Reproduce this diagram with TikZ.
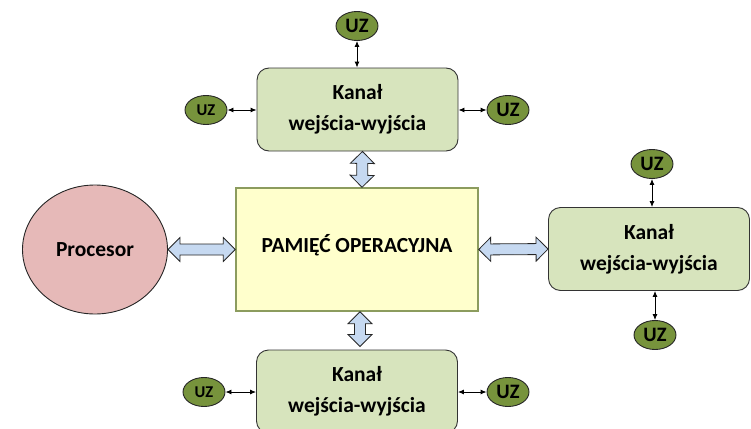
\documentclass[tikz,border=0pt]{standalone}
\usepackage{fontspec}
\setmainfont{Carlito}
\usetikzlibrary{shapes.geometric, calc, arrows.meta}
\definecolor{procFill}{HTML}{E6B9B8}
\definecolor{pamFill}{HTML}{FFFFCC}
\definecolor{pamRam}{HTML}{8C9C5E}
\definecolor{kanFill}{HTML}{D7E4BD}
\definecolor{uzFill}{HTML}{77933C}
\definecolor{szFill}{HTML}{C6D9F1}
\tikzstyle{kanal}=[draw=black!80, line width=0.9pt, fill=kanFill, rounded corners=12pt, minimum width=201pt, minimum height=83pt, align=center, font=\bfseries\fontsize{21.5}{31}\selectfont]
\tikzstyle{uz}=[ellipse, draw=black!85, line width=0.9pt, fill=uzFill, minimum width=42pt, minimum height=29pt, inner sep=0pt, font=\bfseries\fontsize{20.5}{20}\selectfont]
\tikzstyle{uzmaly}=[uz, font=\bfseries\fontsize{16.5}{16}\selectfont]
\tikzstyle{strz}=[{Latex[length=6pt,width=5pt]}-{Latex[length=6pt,width=5pt]}, line width=0.9pt]
\tikzstyle{szyna}=[draw=black!85, fill=szFill, line width=0.8pt]
% szeroka strzalka w obie strony
\newcommand{\magistrala}[2]{\path[szyna] let \p1=(#1), \p2=(#2), \n1={atan2(\y2-\y1,\x2-\x1)}, \n2={veclen(\x2-\x1,\y2-\y1)} in
 [shift={(\p1)}, rotate=\n1] (0,0) -- (12pt,12pt) -- (12pt,5.5pt) -- (\n2-12pt,5.5pt) -- (\n2-12pt,12pt) -- (\n2,0pt)
 -- (\n2-12pt,-12pt) -- (\n2-12pt,-5.5pt) -- (12pt,-5.5pt) -- (12pt,-12pt) -- cycle;}
\begin{document}
\begin{tikzpicture}[x=1pt, y=-1pt]
\path[use as bounding box, clip] (0,0) rectangle (751,428);
\node [ellipse, draw=black!85, line width=0.9pt, fill=procFill, minimum width=145pt, minimum height=129pt, font=\bfseries\fontsize{21.5}{21}\selectfont] (proc) at (95,249.5) {Procesor};
\node [draw=pamRam, line width=1.4pt, fill=pamFill, minimum width=242pt, minimum height=123pt, text depth=12pt, font=\bfseries\fontsize{21.5}{21}\selectfont] (pam) at (357,249.5) {PAMIĘĆ OPERACYJNA};
\node [kanal] (k1) at (357.5,109.5) {Kanał\\wejścia-wyjścia};
\node [kanal] (k2) at (649,249) {Kanał\\wejścia-wyjścia};
\node [kanal] (k3) at (357,391.5) {Kanał\\wejścia-wyjścia};
\node [uz] (uz1) at (357,26) {UZ};
\node [uzmaly] (uz2) at (206,110) {UZ};
\node [uz] (uz3) at (508,110) {UZ};
\node [uz] (uz4) at (652,164) {UZ};
\node [uz] (uz5) at (655,335) {UZ};
\node [uzmaly] (uz6) at (204,392) {UZ};
\node [uz] (uz7) at (508,392) {UZ};
\draw [strz] (uz1) -- (uz1 |- k1.north);
\draw [strz] (uz2) -- (k1.west |- uz2);
\draw [strz] (uz3) -- (k1.east |- uz3);
\draw [strz] (uz4) -- (uz4 |- k2.north);
\draw [strz] (uz5) -- (uz5 |- k2.south);
\draw [strz] (uz6) -- (k3.west |- uz6);
\draw [strz] (uz7) -- (k3.east |- uz7);
\magistrala{proc.east}{pam.west}
\magistrala{pam.east}{k2.west}
\magistrala{[xshift=5pt]k1.south}{[xshift=5pt]pam.north}
\magistrala{[xshift=3pt]pam.south}{[xshift=3pt,yshift=3pt]k3.north}
\end{tikzpicture}
\end{document}
